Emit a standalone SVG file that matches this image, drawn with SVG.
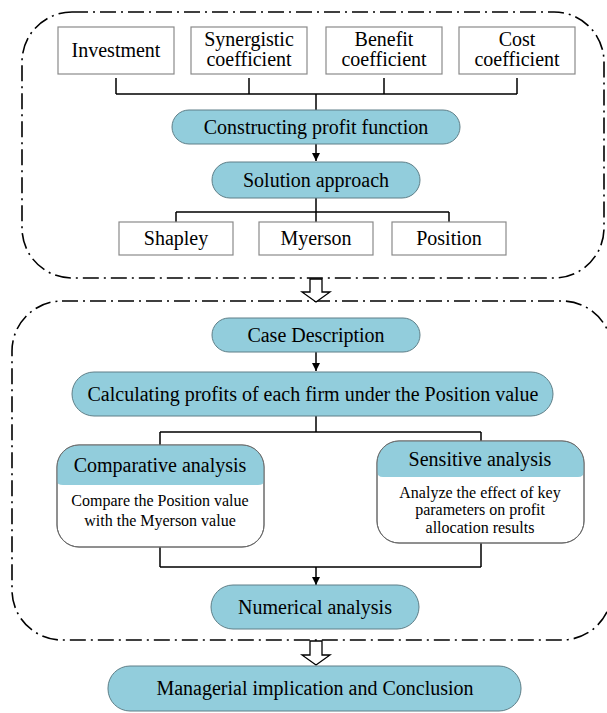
<svg xmlns="http://www.w3.org/2000/svg" width="607" height="713" viewBox="0 0 607 713">
<defs>
<style>
.frame{fill:none;stroke:#000;stroke-width:1.6;stroke-dasharray:16 5 2 5}
.box{fill:#fff;stroke:#8a8a8a;stroke-width:1.2}
.pill{fill:#92CDDC;stroke:#5f7f88;stroke-width:1}
.hdr{fill:#92CDDC;stroke:none}
.card{fill:#fff;stroke:#6a6a6a;stroke-width:1}
.outline{fill:none;stroke:#6a6a6a;stroke-width:1}
.ln{fill:none;stroke:#000;stroke-width:1.5}
text{font-family:"Liberation Serif","Times New Roman",serif;font-size:20px;fill:#000;text-anchor:middle}
.sm{font-size:16px}
</style>
<marker id="ah" viewBox="0 0 10 10" refX="10" refY="5" markerWidth="8" markerHeight="8" markerUnits="userSpaceOnUse" orient="auto">
<path d="M0,0 L10,5 L0,10 z" fill="#000"/>
</marker>
</defs>
<rect fill="#fff" x="0" y="0" width="607" height="713"/>
<g id="frames">
<rect class="frame" x="22" y="12" width="582" height="266" rx="50"/>
<rect class="frame" x="12" y="301" width="600" height="339" rx="50"/>
</g>
<g id="connectors">
<path class="ln" d="M116,78 V94 M249,78 V94 M384,78 V94 M517,78 V94 M116,94 H517 M316,94 V110"/>
<path class="ln" d="M316,143 V161" marker-end="url(#ah)"/>
<path class="ln" d="M316,197 V212 M176,212 H449 M176,212 V222 M316,212 V222 M449,212 V222"/>
<path class="ln" d="M316,352 V371" marker-end="url(#ah)"/>
<path class="ln" d="M316,416 V432 M160,432 H481 M160,432 V445 M481,432 V441"/>
<path class="ln" d="M160,547 V567 M481,543 V567 M160,567 H481"/>
<path class="ln" d="M316,567 V585" marker-end="url(#ah)"/>
<path d="M310,279 V292 H302 L316,302 L330,292 H322 V279 Z" fill="#fff" stroke="#000" stroke-width="1.3"/>
<path d="M310,641 V655 H302 L316,665 L330,655 H322 V641 Z" fill="#fff" stroke="#000" stroke-width="1.3"/>
</g>
<g id="investment"><rect class="box" x="58" y="27" width="116" height="47"/><text x="116" y="57">Investment</text></g>
<g id="synergistic"><rect class="box" x="191" y="27" width="116" height="47"/><text x="249" y="46">Synergistic</text><text x="249" y="66">coefficient</text></g>
<g id="benefit"><rect class="box" x="326" y="27" width="116" height="47"/><text x="384" y="46">Benefit</text><text x="384" y="66">coefficient</text></g>
<g id="cost"><rect class="box" x="459" y="27" width="116" height="47"/><text x="517" y="46">Cost</text><text x="517" y="66">coefficient</text></g>
<g id="profit-function"><rect class="pill" x="172" y="110" width="288" height="34" rx="17"/><text x="316" y="134">Constructing profit function</text></g>
<g id="solution"><rect class="pill" x="212" y="162" width="208" height="36" rx="18"/><text x="316" y="187">Solution approach</text></g>
<g id="shapley"><rect class="box" x="119" y="222" width="114" height="33"/><text x="176" y="245">Shapley</text></g>
<g id="myerson"><rect class="box" x="259" y="222" width="114" height="33"/><text x="316" y="245">Myerson</text></g>
<g id="position"><rect class="box" x="392" y="222" width="114" height="33"/><text x="449" y="245">Position</text></g>
<g id="case"><rect class="pill" x="212" y="318" width="208" height="34" rx="17"/><text x="316" y="342">Case Description</text></g>
<g id="calculating"><rect class="pill" x="72" y="372" width="481" height="44" rx="22"/><text x="313" y="401">Calculating profits of each firm under the Position value</text></g>
<g id="comparative">
<rect class="card" x="57" y="445" width="207" height="102" rx="22"/>
<path class="hdr" d="M57,481 V467 A22,22 0 0 1 79,445 H242 A22,22 0 0 1 264,467 V481 Q264,485 258,485 H63 Q57,485 57,481 Z"/>
<rect class="outline" x="57" y="445" width="207" height="102" rx="22"/>
<text x="160" y="472">Comparative analysis</text>
<text class="sm" x="160" y="506">Compare the Position value</text>
<text class="sm" x="160" y="526">with the Myerson value</text>
</g>
<g id="sensitive">
<rect class="card" x="377" y="441" width="207" height="102" rx="22"/>
<path class="hdr" d="M377,471 V463 A22,22 0 0 1 399,441 H562 A22,22 0 0 1 584,463 V471 Q584,477 578,477 H383 Q377,477 377,471 Z"/>
<rect class="outline" x="377" y="441" width="207" height="102" rx="22"/>
<text x="480" y="466">Sensitive analysis</text>
<text class="sm" x="480" y="498">Analyze the effect of key</text>
<text class="sm" x="480" y="515">parameters on profit</text>
<text class="sm" x="480" y="533">allocation results</text>
</g>
<g id="numerical"><rect class="pill" x="211" y="585" width="208" height="44" rx="22"/><text x="315" y="614">Numerical analysis</text></g>
<g id="managerial"><rect class="pill" x="108" y="666" width="413" height="45" rx="22"/><text x="315" y="695">Managerial implication and Conclusion</text></g>
</svg>
